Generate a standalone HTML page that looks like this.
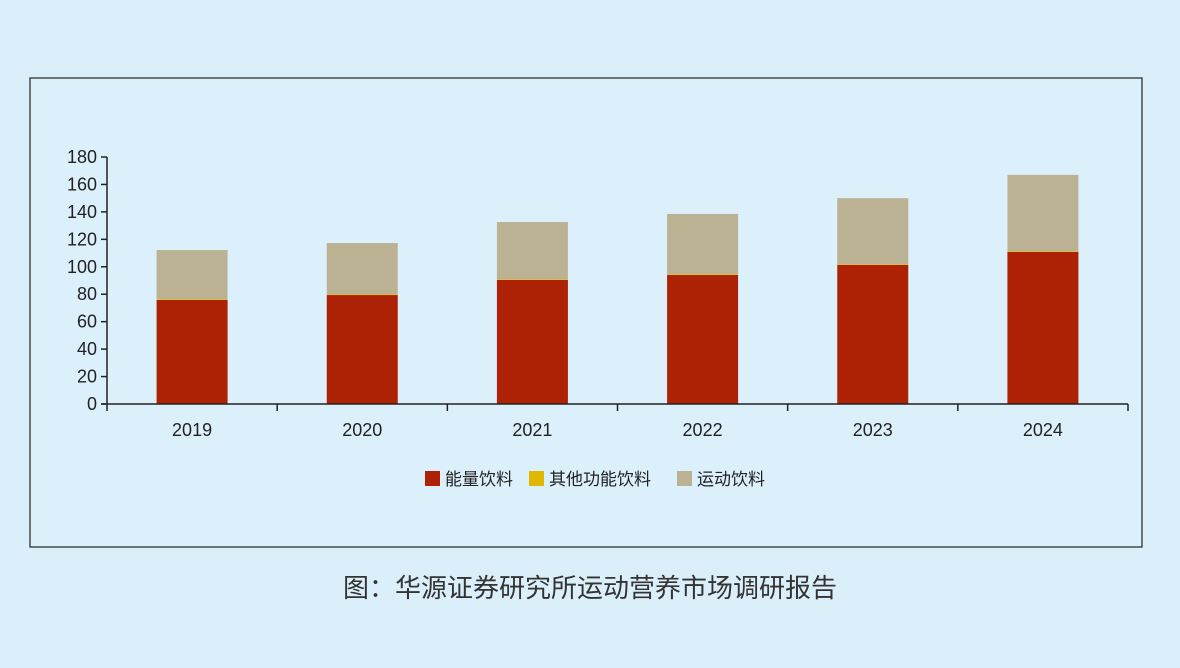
<!DOCTYPE html>
<html><head><meta charset="utf-8"><style>
body{margin:0;width:1180px;height:663px;background:#dbeffb;overflow:hidden;font-family:"Liberation Sans","Noto Sans CJK SC",sans-serif}
</style></head><body>
<svg width="1180" height="663">
<rect x="30" y="78" width="1112" height="469" fill="#dcf0fc" stroke="#222" stroke-width="1.2"/>
<g id="plot"></g>
<text x="590" y="597" text-anchor="middle" font-size="26" fill="#333" font-family="Liberation Sans,Noto Sans CJK SC,sans-serif">图：华源证券研究所运动营养市场调研报告</text>
</svg>
<script>
const categories=["2019","2020","2021","2022","2023","2024"];
const energy=[75.8,79.4,90.4,94,101.3,110.8];
const otherFunc=[0.5,0.5,0.5,0.5,0.5,0.5];
const sports=[35.9,37.4,41.7,44,48.2,55.7];
const yTicks=[0,20,40,60,80,100,120,140,160,180];
const seriesNames=["能量饮料","其他功能饮料","运动饮料"];
const colors=["#ad2204","#e0b800","#bbb294"];
const NS="http://www.w3.org/2000/svg";
const g=document.getElementById('plot');
const x0=107,x1=1128,y0=404,yTop=157,yMax=180;
const y=v=>y0-(v/yMax)*(y0-yTop);
const bw=(x1-x0)/categories.length;
const xc=i=>x0+bw*(i+0.5);
function mk(t,a){const e=document.createElementNS(NS,t);for(const k in a)e.setAttribute(k,a[k]);g.appendChild(e);return e;}
const series=[energy,otherFunc,sports];
categories.forEach((c,i)=>{let base=0;
 series.forEach((s,j)=>{const r=mk('rect',{x:xc(i)-35.5,y:y(base+s[i]),width:71,height:y(base)-y(base+s[i]),fill:colors[j]});
 
 
 base+=s[i];});
 const t=mk('text',{x:xc(i),y:436,'text-anchor':'middle','font-size':18,fill:'#222'});t.textContent=c;
 
 
});
const ya=mk('line',{x1:x0,y1:yTop,x2:x0,y2:y0,stroke:'#222','stroke-width':1.5});


const xa=mk('line',{x1:x0-6,y1:y0,x2:x1,y2:y0,stroke:'#222','stroke-width':1.5});


yTicks.forEach(v=>{mk('line',{x1:x0-6,y1:y(v),x2:x0,y2:y(v),stroke:'#222','stroke-width':1.5});
 const t=mk('text',{x:x0-10,y:y(v)+6,'text-anchor':'end','font-size':18,fill:'#222'});t.textContent=v;
 
 });
for(let i=0;i<=categories.length;i++){mk('line',{x1:x0+bw*i,y1:y0,x2:x0+bw*i,y2:y0+7,stroke:'#222','stroke-width':1.5});}
const lx=[425,529,677];
seriesNames.forEach((n,j)=>{const r=mk('rect',{x:lx[j],y:471,width:15,height:15,fill:colors[j]});
 
 
 const t=mk('text',{x:lx[j]+20,y:485,'font-size':17,fill:'#222'});t.textContent=n;
 
 });
</script>
</body></html>
